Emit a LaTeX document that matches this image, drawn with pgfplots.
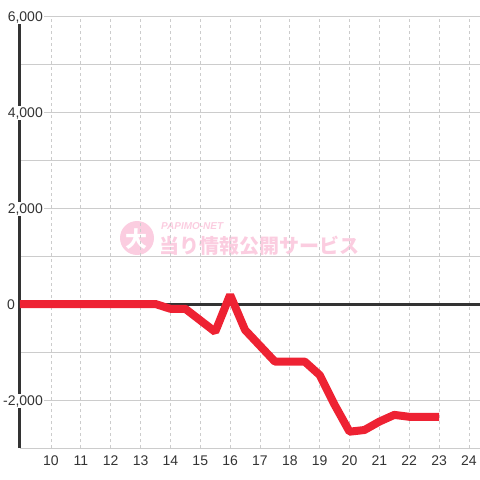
\documentclass[border=0pt]{standalone}
\usepackage{pgfplots}
\pgfplotsset{compat=1.18}
\usepackage{fontspec}
\setmainfont{Liberation Sans}
\newfontfamily\cjk{Noto Sans CJK JP}
\definecolor{lineRed}{HTML}{EE2233}
\definecolor{gridGray}{HTML}{CCCCCC}
\definecolor{axisDark}{HTML}{333333}
\definecolor{wmPink}{HTML}{FBCDE0}
\begin{document}
\begin{tikzpicture}
\useasboundingbox (-20pt,-32pt) rectangle (460pt,448pt);
% watermark
\fill[wmPink] (117pt,210pt) circle (17pt);
\node[text=white,font=\cjk\bfseries\fontsize{22}{22}\selectfont] at (117pt,209pt) {大};
\node[anchor=west,text=wmPink,font=\bfseries\itshape\fontsize{10}{10}\selectfont,inner sep=0pt] at (141pt,222pt) {PAPIMO-NET};
\node[anchor=west,text=wmPink,font=\cjk\bfseries\fontsize{20}{20}\selectfont,inner sep=0pt] at (139pt,202pt) {当り情報公開サービス};
\begin{axis}[
  at={(0pt,0pt)}, anchor=south west,
  scale only axis, width=460pt, height=432pt,
  xmin=8.962, xmax=24.37, ymin=-3000, ymax=6000,
  axis lines=left,
  axis line style={-},
  x axis line style={draw=gridGray, line width=1pt},
  y axis line style={draw=axisDark, line width=3pt},
  xtick={10,...,24},
  ytick={-2000,2000,4000,6000},
  minor ytick={-1000,1000,3000,5000},
  extra y ticks={0},
  extra y tick style={
    grid=none,
    yticklabel style={xshift=-28pt},
  },
  major tick length=0pt, minor tick length=0pt,
  xmajorgrids, ymajorgrids, yminorgrids,
  x grid style={draw=gridGray, dashed, dash pattern=on 3pt off 3pt, line width=0.8pt},
  y grid style={draw=gridGray, line width=1pt},
  minor y grid style={draw=gridGray, line width=1pt},
  /pgf/number format/assume math mode=true,
  /pgf/number format/1000 sep={,},
  ticklabel style={font=\fontsize{14}{16}\selectfont, text=axisDark},
  yticklabel style={anchor=base east, fill=white, inner sep=1pt, xshift=24pt, yshift=-5pt},
  xticklabel style={yshift=-4pt},
  clip=false,
]
\draw[axisDark, line width=3pt] (axis cs:8.962,0) -- (axis cs:24.37,0);
\addplot[lineRed, line width=8pt, line join=bevel] coordinates {
(8.962,0) (9,0) (9.5,0) (10,0) (10.5,0) (11,0) (11.5,0) (12,0) (12.5,0) (13,0) (13.5,0)
(14,-100) (14.5,-100) (15,-340) (15.5,-580) (16,190) (16.5,-540) (17,-870) (17.5,-1200)
(18,-1200) (18.5,-1200) (19,-1480) (19.5,-2100) (20,-2660) (20.5,-2625) (21,-2450)
(21.5,-2310) (22,-2350) (22.5,-2350) (23,-2350)
};
\end{axis}
\end{tikzpicture}
\end{document}
